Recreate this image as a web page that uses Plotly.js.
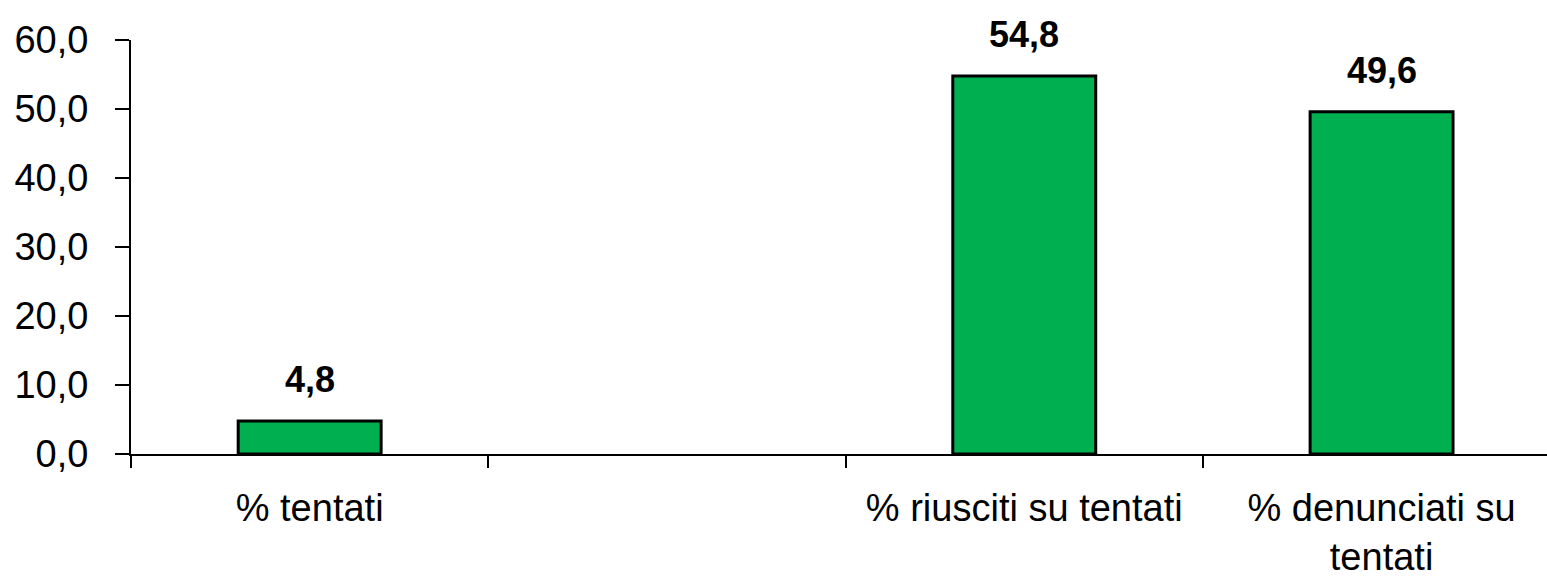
<!DOCTYPE html>
<html>
<head>
<meta charset="utf-8">
<script src="https://cdn.plot.ly/plotly-3.0.1.min.js"></script>
<style>html,body{margin:0;padding:0;background:#fff;}#chart{width:1547px;height:584px;}</style>
</head>
<body>
<div id="chart"></div>
<script>
const categories = ["% tentati", " ", "% riusciti su tentati", "% denunciati su<br>tentati"];
const values = [4.8, null, 54.8, 49.6];
const yTickValues = [0, 10, 20, 30, 40, 50, 60];

const FONT = "'Liberation Sans', Arial, sans-serif";

const fmt = v => v.toFixed(1).replace('.', ',');

const annotations = [];
categories.forEach((c, i) => {
  if (values[i] !== null) {
    annotations.push({
      x: c, y: values[i], xref: 'x', yref: 'y',
      text: '<b>' + fmt(values[i]) + '</b>',
      showarrow: false, yanchor: 'bottom', yshift: 19,
      font: {family: FONT, size: 36, color: '#000'}
    });
  }
});

const trace = {
  type: 'bar',
  x: categories,
  y: values,
  width: 0.4,
  marker: {color: '#00B050', line: {color: '#000', width: 3}},
  hoverinfo: 'skip'
};

const layout = {
  width: 1547, height: 584,
  margin: {l: 131, r: 0, t: 40, b: 130},
  paper_bgcolor: '#fff', plot_bgcolor: '#fff',
  showlegend: false,
  separators: ',.',
  font: {family: FONT, size: 38, color: '#000'},
  xaxis: {
    type: 'category',
    range: [-0.5, 3.463],
    showline: true, linecolor: '#000', linewidth: 2,
    ticks: 'outside', tickson: 'boundaries', ticklen: 12, tickwidth: 2, tickcolor: '#000',
    showgrid: false, zeroline: false,
    tickangle: 0,
    tickfont: {family: FONT, size: 38, color: '#000'},
    ticklabelstandoff: 19
  },
  yaxis: {
    range: [0, 60],
    tickvals: yTickValues,
    tickformat: '.1f',
    showline: true, linecolor: '#000', linewidth: 2,
    ticks: 'outside', ticklen: 14, tickwidth: 2, tickcolor: '#000',
    showgrid: false, zeroline: false,
    tickfont: {family: FONT, size: 38, color: '#000'},
    ticklabelstandoff: 19
  },
  annotations: annotations
};

Plotly.newPlot('chart', [trace], layout, {displayModeBar: false, staticPlot: true});
</script>
</body>
</html>
